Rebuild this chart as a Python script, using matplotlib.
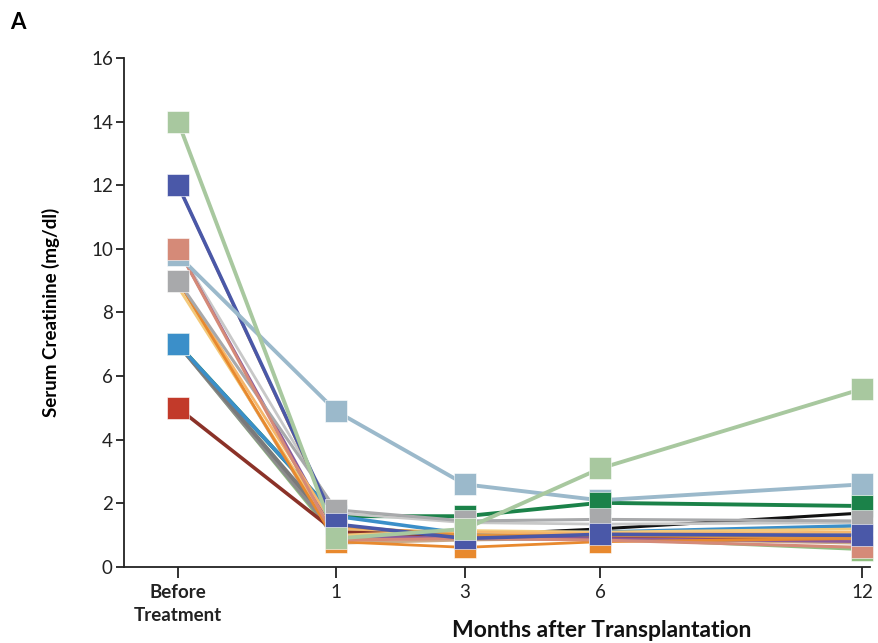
import matplotlib.pyplot as plt

# time points (categorical) and their horizontal placement on the axis
time_labels = ["Before\nTreatment", "1", "3", "6", "12"]
x_pos = [0, 1, 1.816, 2.671, 4.329]

# serum creatinine per patient (mg/dl)
light_green = [14, 0.9, 1.2, 3.1, 5.6]
dark_blue = [12, 1.35, 0.9, 1.03, 1.0]
salmon = [10, 0.85, 0.9, 0.85, 0.62]
blue_grey = [9.8, 4.9, 2.6, 2.1, 2.6]
grey = [9, 1.8, 1.45, 1.5, 1.45]
blue = [7, 1.6, 1.05, 1.1, 1.3]
red = [5, 1.1, 1.0, 0.95, 0.9]
dark_green = [7, 1.6, 1.6, 2.02, 1.92]
black = [7, 1.1, 1.0, 1.2, 1.7]
orange = [9, 0.8, 0.62, 0.8, 0.9]
light_orange = [9, 1.2, 1.1, 1.05, 1.1]
yellow = [8.8, 1.0, 1.15, 1.1, 1.2]
grey2 = [7, 1.2, 1.05, 0.95, 1.0]
grey3 = [7, 1.0, 0.9, 0.9, 0.9]
purple = [10, 1.0, 0.9, 0.9, 0.8]
orange2 = [12, 1.3, 1.0, 1.0, 0.9]
light_grey = [10, 1.7, 1.4, 1.35, 1.4]
tan = [9, 0.75, 0.85, 0.9, 0.75]
green2 = [7, 0.9, 0.95, 0.9, 0.55]

plt.rcParams['font.family'] = ['Lato', 'DejaVu Sans']

fig = plt.figure(figsize=(8.79, 6.43), dpi=100)
ax = fig.add_axes([0.141, 0.118, 0.849, 0.792])

# lines, bottom to top: (values, line colour, width)
lines = [
    (black, "#111111", 2.2),
    (dark_green, "#1b8249", 2.8),
    (green2, "#8fbf7f", 2.0),
    (tan, "#c9a98a", 2.0),
    (light_grey, "#c8c8c8", 2.0),
    (grey3, "#8c8c8c", 2.8),
    (grey2, "#7a7a7a", 2.8),
    (blue, "#3b8fc9", 2.6),
    (red, "#8b3228", 2.6),
    (purple, "#8a5a9c", 2.0),
    (yellow, "#f3c97a", 2.0),
    (light_orange, "#f5b66a", 2.0),
    (orange, "#e8892e", 2.0),
    (grey, "#a8a9ab", 2.2),
    (salmon, "#d58a78", 2.2),
    (orange2, "#e0913c", 2.0),
    (dark_blue, "#4a58a8", 2.6),
    (blue_grey, "#9bb9cb", 2.8),
    (light_green, "#a8c89f", 2.8),
]
for vals, c, w in lines:
    ax.plot(x_pos, vals, color=c, lw=w, clip_on=False, zorder=2)

colors = {
    "light_green": ("#a8c89f", light_green),
    "dark_blue": ("#4a58a8", dark_blue),
    "salmon": ("#d58a78", salmon),
    "blue_grey": ("#9bb9cb", blue_grey),
    "grey": ("#a8a9ab", grey),
    "blue": ("#3b8fc9", blue),
    "red": ("#c23a2a", red),
    "dark_green": ("#1b8249", dark_green),
    "orange": ("#e8892e", orange),
    "green2": ("#8fbf7f", green2),
}
# marker stacking at each time point, bottom to top
marker_order = [
    ["dark_green", "red", "grey", "blue_grey", "blue", "salmon", "dark_blue", "light_green"],
    ["dark_green", "blue", "salmon", "red", "orange", "grey", "dark_blue", "light_green", "blue_grey"],
    ["orange", "dark_blue", "dark_green", "grey", "light_green", "blue_grey"],
    ["blue_grey", "orange", "dark_green", "grey", "dark_blue", "light_green"],
    ["green2", "salmon", "blue_grey", "dark_green", "grey", "dark_blue", "light_green"],
]
for j, order in enumerate(marker_order):
    for k, name in enumerate(order):
        c, vals = colors[name]
        ax.plot(x_pos[j], vals[j], marker="s", ms=16, mfc=c, mec="white",
                mew=0.4, ls="none", clip_on=False, zorder=3 + k)

ax.set_xlim(-0.342, 4.38)
ax.set_ylim(0, 16)
ax.set_yticks(range(0, 17, 2))
ax.set_xticks(x_pos)
ax.set_xticklabels(time_labels, linespacing=1.45)
ax.get_xticklabels()[0].set_fontweight("bold")
ax.tick_params(axis="y", length=6, width=1.3, labelsize=13.5, pad=2, colors="#222222")
ax.tick_params(axis="x", length=8, width=1.3, labelsize=13.5, pad=4, colors="#222222")
for s in ["top", "right"]:
    ax.spines[s].set_visible(False)
for s in ["left", "bottom"]:
    ax.spines[s].set_linewidth(1.3)
    ax.spines[s].set_color("#222222")

ax.set_ylabel("Serum Creatinine (mg/dl)", fontsize=13.5, fontweight="bold", labelpad=22)
fig.text(0.684, 0.02, "Months after Transplantation", fontsize=16.5, fontweight="bold",
         ha="center", va="center", color="#111111")
fig.text(0.012, 0.955, "A", fontsize=16, fontweight="bold")

fig.savefig("out.png", dpi=100)
